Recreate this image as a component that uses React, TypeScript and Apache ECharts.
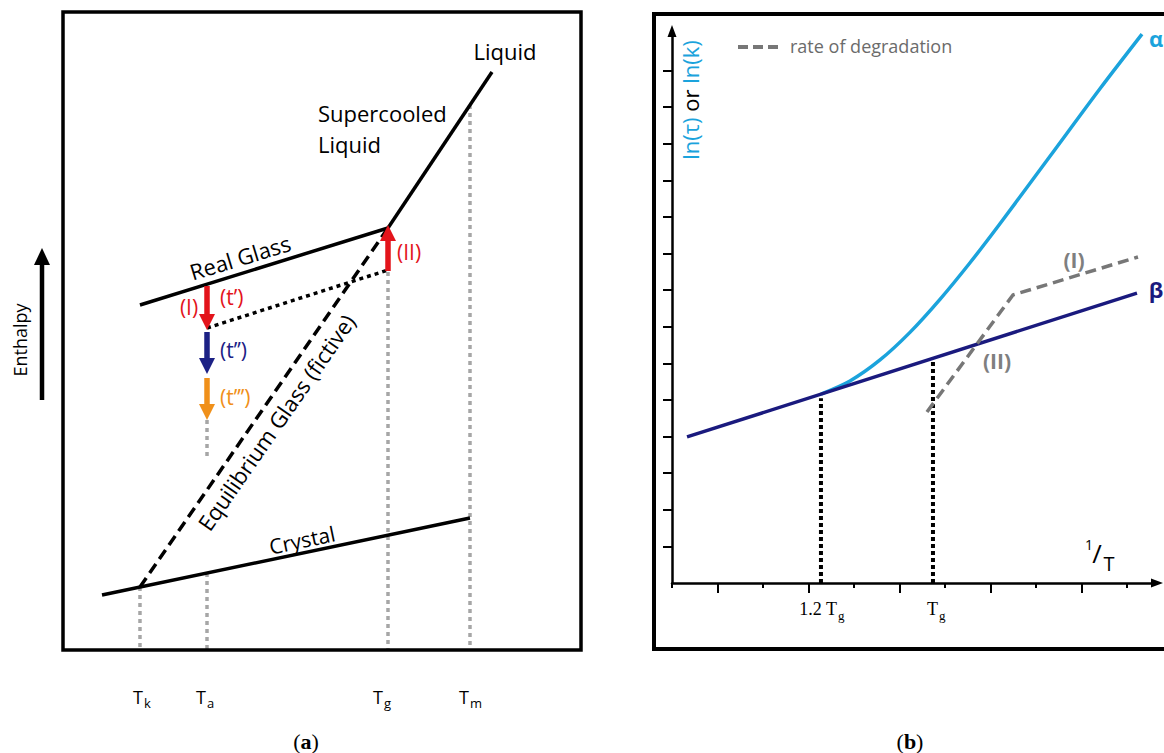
import React, { useEffect, useRef } from "react";
import * as echarts from "echarts";

// ---------- Panel (a): enthalpy vs temperature (arbitrary units 0..100) ----------
const crystal = [[7.53, 8.62], [78.57, 20.69]];
const realGlass = [[14.86, 54.08], [62.74, 66.14]];
const liquid = [[62.74, 66.14], [82.82, 90.6]];
const equilibriumGlass = [[14.86, 9.87], [62.74, 66.14]];
const agedGlass = [[27.8, 50.47], [62.74, 59.56]];
const tempGuides = [
  [[14.86, 9.87], [14.86, 0]],
  [[27.8, 36.05], [27.8, 30.25]],
  [[27.8, 12.07], [27.8, 0]],
  [[62.74, 59.25], [62.74, 0]],
  [[78.57, 85.42], [78.57, 0]],
];
const agingArrows = [
  [[27.8, 57.05], [27.8, 51.41]],
  [[27.8, 49.84], [27.8, 44.51]],
  [[27.8, 42.63], [27.8, 37.3]],
  [[62.74, 59.4], [62.74, 65.36]],
];
const arrowColors = ["#e3141b", "#1c2185", "#f0901a", "#e3141b"];
const tempLabels = [
  { t: "T", s: "k" },
  { t: "T", s: "a" },
  { t: "T", s: "g" },
  { t: "T", s: "m" },
];

// ---------- Panel (b): ln(tau) or ln(k) vs 1/T ----------
const betaLine = [[0.165, 3.99], [5.11, 7.92]];
const alphaCurve = [
  [1.637, 5.16], [1.956, 5.519], [2.286, 6.093], [2.615, 6.847], [2.945, 7.749],
  [3.275, 8.749], [3.604, 9.814], [4.154, 11.658], [4.703, 13.503], [5.165, 14.995],
];
const degradation = [[2.802, 4.672], [3.747, 7.869], [5.121, 8.907]];
const tgGuides = [
  [[1.637, 0], [1.637, 5.05]],
  [[2.868, 0], [2.868, 6.05]],
];
const xShortTicks = [0, 1, 2, 3, 4, 5];
const xLongTicks = [0.5, 1.5, 2.5, 3.5, 4.5];
const yTicks = [1, 2, 3, 4, 5, 6, 7, 8, 9, 10, 11, 12, 13, 14];
const X_MAX = 5.33;
const Y_MAX = 15.08;

const SANS = '"Open Sans", "Noto Sans", sans-serif';
const SERIF = '"Liberation Serif", "DejaVu Serif", serif';
const ALPHA = "#1ba3dc";
const BETA = "#1a1a7e";
const GREY = "#777777";

function txt(x: number, y: number, text: string, size: number, color: string, o: any = {}) {
  const align = o.align || "center";
  return {
    type: "text",
    x,
    y,
    rotation: ((o.rot || 0) * Math.PI) / 180,
    z: 20,
    style: {
      text,
      font: `${o.weight || "normal"} ${size}px ${o.family || SANS}`,
      fill: color,
      align,
      textAlign: align,
      verticalAlign: "middle",
      textVerticalAlign: "middle",
      rich: o.rich,
    },
  };
}

function lineSeries(data: number[][], axis: number, color: string, width: number, type: any, z = 3, smooth: any = false) {
  return {
    type: "line",
    xAxisIndex: axis,
    yAxisIndex: axis,
    data,
    showSymbol: false,
    symbol: "none",
    smooth,
    silent: true,
    z,
    lineStyle: { color, width, type, cap: "butt", join: "round" },
  };
}

export default function App() {
  const ref = useRef<HTMLDivElement>(null);
  useEffect(() => {
    const chart = echarts.init(ref.current!, null, { renderer: "svg" });
    const tX = [143, 206, 383, 469];

    const graphic: any[] = [
      // panel frames
      { type: "rect", shape: { x: 63, y: 12, width: 518, height: 638 }, style: { fill: "none", stroke: "#000", lineWidth: 3.5 }, z: 30 },
      { type: "rect", shape: { x: 654, y: 14, width: 540, height: 635 }, style: { fill: "none", stroke: "#000", lineWidth: 4 }, z: 30 },
      // Enthalpy arrow
      { type: "line", shape: { x1: 42, y1: 400, x2: 42, y2: 262 }, style: { stroke: "#000", lineWidth: 4.5 }, z: 20 },
      { type: "polygon", shape: { points: [[34, 265], [50, 265], [42, 248]] }, style: { fill: "#000" }, z: 20 },
      txt(20, 340, "Enthalpy", 18, "#000", { rot: 90 }),
      // panel (a) annotations
      txt(505, 51, "Liquid", 22, "#000"),
      txt(318, 113, "Supercooled", 22, "#000", { align: "left" }),
      txt(318, 144, "Liquid", 22, "#000", { align: "left" }),
      txt(240, 257, "Real Glass", 22, "#000", { rot: 17 }),
      txt(276, 422, "Equilibrium Glass (fictive)", 22, "#000", { rot: 55.2 }),
      txt(302, 540, "Crystal", 21, "#000", { rot: 11.8 }),
      txt(189, 307, "(I)", 21, arrowColors[0]),
      txt(220, 297, "(t’)", 21, arrowColors[0], { align: "left" }),
      txt(220, 350, "(t’’)", 21, arrowColors[1], { align: "left" }),
      txt(220, 397, "(t’’’)", 21, arrowColors[2], { align: "left" }),
      txt(397, 252, "(II)", 21, arrowColors[3], { align: "left" }),
      // panel captions
      txt(306, 741, "({b|a})", 22, "#000", { family: SERIF, rich: { b: { font: `bold 22px ${SERIF}`, fill: "#000" } } }),
      txt(910, 741, "({b|b})", 22, "#000", { family: SERIF, rich: { b: { font: `bold 22px ${SERIF}`, fill: "#000" } } }),
      // panel (b) annotations
      { type: "line", shape: { x1: 738, y1: 47, x2: 780, y2: 47 }, style: { stroke: GREY, lineWidth: 4, lineDash: [10, 5] }, z: 20 },
      txt(790, 46, "rate of degradation", 18, "#6b6b6b", { align: "left" }),
      txt(1156, 38, "α", 22, ALPHA, { weight: "bold" }),
      txt(1156, 289, "β", 22, BETA, { weight: "bold" }),
      txt(690, 100, "{a|ln(τ)} or {a|ln(k)}", 22, "#000", { rot: 90, rich: { a: { font: `normal 22px ${SANS}`, fill: ALPHA } } }),
      txt(1074, 260, "(I)", 21, "#7f7f7f", { weight: "bold" }),
      txt(997, 361, "(II)", 21, "#7f7f7f", { weight: "bold" }),
      txt(837, 609, "1.2 T", 18, "#000", { family: SERIF, align: "right" }),
      txt(838, 615, "g", 13, "#000", { family: SERIF, align: "left" }),
      txt(938, 609, "T", 18, "#000", { family: SERIF, align: "right" }),
      txt(939, 615, "g", 13, "#000", { family: SERIF, align: "left" }),
      txt(1089, 544, "1", 14, "#000"),
      txt(1097, 553, "/", 26, "#000"),
      txt(1109, 563, "T", 20, "#000"),
    ];
    tempLabels.forEach((l, i) => {
      graphic.push(txt(tX[i], 697, l.t, 18, "#000", { align: "right" }));
      graphic.push(txt(tX[i] + 1, 703, l.s, 13, "#000", { align: "left" }));
    });

    const series: any[] = [
      ...tempGuides.map((g) => lineSeries(g, 0, "#a6a6a6", 3.5, [4, 4], 1)),
      lineSeries(crystal, 0, "#000", 3.5, "solid"),
      lineSeries(realGlass, 0, "#000", 3.5, "solid"),
      lineSeries(liquid, 0, "#000", 3.5, "solid"),
      lineSeries(equilibriumGlass, 0, "#000", 3.5, [11, 6]),
      lineSeries(agedGlass, 0, "#000", 3.5, [4, 4]),
      {
        type: "lines",
        coordinateSystem: "cartesian2d",
        xAxisIndex: 0,
        yAxisIndex: 0,
        silent: true,
        z: 6,
        symbol: ["none", "triangle"],
        symbolSize: [17, 16],
        data: agingArrows.map((c, i) => ({
          coords: c,
          lineStyle: { color: arrowColors[i], width: 5.5, opacity: 1 },
          itemStyle: { color: arrowColors[i] },
        })),
      },
      lineSeries(alphaCurve, 1, ALPHA, 3.5, "solid", 3, 0.3),
      lineSeries(betaLine, 1, BETA, 3.5, "solid", 4),
      ...tgGuides.map((g) => lineSeries(g, 1, "#000", 4, [4, 3], 2)),
      lineSeries(degradation, 1, GREY, 3.5, [11, 6], 5),
    ];

    chart.setOption({
      animation: false,
      backgroundColor: "#fff",
      grid: [
        { left: 63, top: 12, width: 518, height: 638 },
        { left: 672, top: 31, width: 485, height: 552 },
        { left: 672, top: 31, width: 485, height: 552 },
      ],
      xAxis: [
        { gridIndex: 0, type: "value", min: 0, max: 100, show: false },
        {
          gridIndex: 1, type: "value", min: 0, max: X_MAX, interval: 1,
          axisLine: { show: true, onZero: false, lineStyle: { color: "#000", width: 2.5 }, symbol: ["none", "triangle"], symbolSize: [9, 12] },
          axisTick: { show: true, customValues: xShortTicks, length: 5, lineStyle: { color: "#000", width: 2 } },
          axisLabel: { show: false }, splitLine: { show: false },
        },
        {
          gridIndex: 2, type: "value", min: 0, max: X_MAX, interval: 1,
          axisLine: { show: false },
          axisTick: { show: true, customValues: xLongTicks, length: 10, lineStyle: { color: "#000", width: 2 } },
          axisLabel: { show: false }, splitLine: { show: false },
        },
      ],
      yAxis: [
        { gridIndex: 0, type: "value", min: 0, max: 100, show: false },
        {
          gridIndex: 1, type: "value", min: 0, max: Y_MAX, interval: 1,
          axisLine: { show: true, onZero: false, lineStyle: { color: "#000", width: 2.5 }, symbol: ["none", "triangle"], symbolSize: [9, 12] },
          axisTick: { show: true, customValues: yTicks, length: 9, lineStyle: { color: "#000", width: 2 } },
          axisLabel: { show: false }, splitLine: { show: false },
        },
        { gridIndex: 2, type: "value", min: 0, max: Y_MAX, show: false },
      ],
      graphic,
      series,
    });
    return () => chart.dispose();
  }, []);
  return (
    <div
      ref={ref}
      style={{ position: "absolute", left: 0, top: 0, width: 1164, height: 753, background: "#fff" }}
    />
  );
}
